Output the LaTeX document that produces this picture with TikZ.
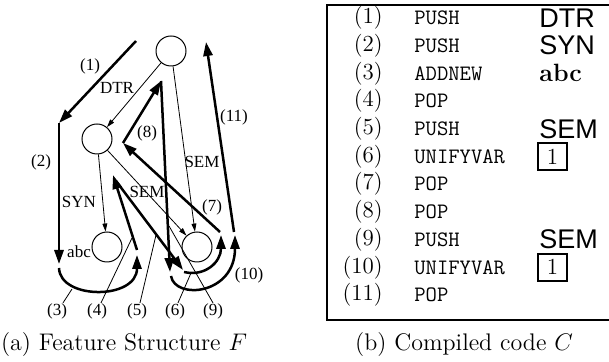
\documentclass[tikz,border=0pt]{standalone}
\usepackage{fontspec}
\usetikzlibrary{arrows.meta}
\newfontfamily\timesf{Liberation Serif}
\newfontfamily\helvf{Liberation Sans}
\begin{document}
\begin{tikzpicture}[x=0.5pt,y=-0.5pt,
  fsnode/.style={circle,draw,line width=0.5pt,minimum size=15pt,inner sep=0pt},
  fedge/.style={line width=0.4pt,-{Triangle[length=4pt,width=2.4pt]}},
  trav/.style={line width=1.25pt,-{Triangle[length=7pt,width=4.6pt]}},
  leader/.style={line width=0.4pt},
  lab/.style={font=\timesf\fontsize{8.5}{10}\selectfont,inner sep=0pt},
  numcol/.style={anchor=east,inner sep=0pt,font=\fontsize{11.5}{13}\selectfont},
  opcol/.style={anchor=west,inner sep=0pt,font=\ttfamily\fontsize{11}{13}\selectfont},
  argcol/.style={anchor=west,inner sep=0pt,font=\helvf\fontsize{13.5}{15}\selectfont},
  bfarg/.style={anchor=west,inner sep=0pt,font=\bfseries\fontsize{12.5}{14}\selectfont},
  boxarg/.style={draw,line width=1.1pt,minimum width=14.5pt,minimum height=13.5pt,inner sep=0pt,font=\fontsize{11.5}{13}\selectfont},
  captext/.style={inner sep=0pt,font=\fontsize{12}{14}\selectfont}]
\useasboundingbox (0,0) rectangle (609,362);
% ---------- feature structure ----------
\node[fsnode] (top) at (171,51) {};
\node[fsnode] (mid) at (97,139) {};
\node[fsnode] (abcn) at (107,247) {};
\node[fsnode] (rt) at (197,247) {};
\draw[fedge] (top) -- (mid);
\draw[fedge] (mid) -- (abcn);
\draw[fedge] (mid) -- (rt);
\draw[fedge] (top) -- (rt);
\node[lab] (lDTR) at (117,88) {DTR};
\node[lab] (lSYN) at (79,202) {SYN};
\node[lab] (lSEMa) at (147,192) {SEM};
\node[lab] (lSEMb) at (202,162) {SEM};
\node[lab] (labc) at (79,252) {abc};
% traversal coordinates
\coordinate (a1) at (136,41);
\coordinate (a2) at (59,123);
\coordinate (a3) at (59,264);
\coordinate (b3) at (59,268);
\coordinate (e3) at (137,255);
\coordinate (s4) at (137,250);
\coordinate (e4) at (113,175);
\coordinate (s5) at (116,181);
\coordinate (e5) at (183,270);
\coordinate (s6) at (184,272);
\coordinate (e6) at (221,235);
\coordinate (s7) at (220,232);
\coordinate (e7) at (123,143);
\coordinate (e8) at (161,81);
\coordinate (e9) at (170,272);
\coordinate (s10) at (171,276);
\coordinate (e10) at (235,235);
\coordinate (s11) at (234,232);
\coordinate (e11) at (206,42);
\draw[trav] (a1) -- (a2);
\draw[trav] (a2) -- (a3);
\draw[trav] (b3) .. controls (60,300) and (137,300) .. (e3);
\draw[trav] (s4) -- (e4);
\draw[trav] (s5) -- (e5);
\draw[trav] (s6) .. controls (205,277) and (221,262) .. (e6);
\draw[trav] (s7) -- (e7);
\draw[trav] (e7) -- (e8);
\draw[trav] (e8) -- (e9);
\draw[trav] (s10) .. controls (175,300) and (235,295) .. (e10);
\draw[trav] (s11) -- (e11);
% step labels
\node[lab] (n1) at (90,66) {(1)};
\node[lab] (n2) at (41,162) {(2)};
\node[lab] (n7) at (212,207) {(7)};
\node[lab] (n8) at (147,133) {(8)};
\node[lab] (n10) at (249,275) {(10)};
\node[lab] (n11) at (234,117) {(11)};
\node[lab] (n3) at (57,311) {(3)};
\node[lab] (n4) at (97,311) {(4)};
\node[lab] (n5) at (137,311) {(5)};
\node[lab] (n6) at (175,311) {(6)};
\node[lab] (n9) at (213,311) {(9)};
\coordinate (t3) at (72,289);
\coordinate (t4) at (132,238);
\coordinate (t5) at (156,235);
\coordinate (t6) at (191,273);
\coordinate (t9) at (169,226);
\draw[leader] (n3.north) ++(6,0) coordinate (f3) -- (t3);
\draw[leader] (n4.north) ++(4,0) coordinate (f4) -- (t4);
\draw[leader] (n5.north) ++(3,0) coordinate (f5) -- (t5);
\draw[leader] (n6.north) ++(3,0) coordinate (f6) -- (t6);
\draw[leader] (n9.north) -- (t9);
% ---------- compiled code ----------
\draw[line width=1.3pt] (615,5) -- (327,5) -- (327,320) -- (615,320);
\foreach \i/\op in {1/PUSH,2/PUSH,3/ADDNEW,4/POP,5/PUSH,6/UNIFYVAR,7/POP,8/POP,9/PUSH,10/UNIFYVAR,11/POP}{
  \node[numcol] (num\i) at (383,{18+27.7*(\i-1)}) {(\i)};
  \node[opcol] (op\i) at (414,{18+27.7*(\i-1)}) {\op};
}
\node[argcol] (arg1) at (539,18) {DTR};
\node[argcol] (arg2) at (539,45.7) {SYN};
\node[bfarg] (arg3) at (539,73.4) {abc};
\node[argcol] (arg5) at (539,128.8) {SEM};
\node[boxarg] (arg6) at (552.5,156.5) {1};
\node[argcol] (arg9) at (539,239.6) {SEM};
\node[boxarg] (arg10) at (552.5,267.3) {1};
% ---------- captions ----------
\node[captext] (capa) at (124,345) {(a) Feature Structure $F$};
\node[captext] (capb) at (464,345) {(b) Compiled code $C$};
\end{tikzpicture}
\end{document}
